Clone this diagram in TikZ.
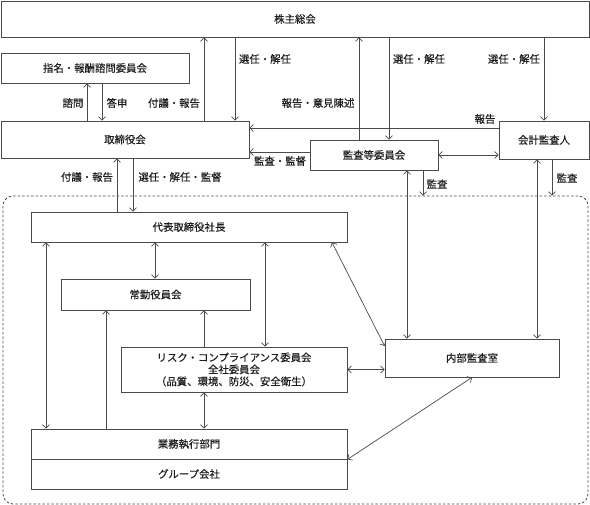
\documentclass[tikz,border=0pt]{standalone}
\usepackage{fontspec}
\setmainfont{Noto Sans CJK JP}[FakeBold=0.5]
\usetikzlibrary{arrows.meta}
\definecolor{lc}{HTML}{4A4A4A}
\definecolor{tc}{HTML}{1E1E1E}
\tikzset{
  box/.style={draw=lc, line width=0.8pt, rectangle, inner sep=0pt, text=tc, align=center,
    font=\fontsize{10.4}{12}\selectfont},
  lbl/.style={text=tc, inner sep=0pt, font=\fontsize{10.4}{12}\selectfont},
  conn/.style={draw=lc, line width=0.7pt},
  tip/.style={-{Straight Barb[length=3.5pt,width=7pt]}},
  both/.style={{Straight Barb[length=3.5pt,width=7pt]}-{Straight Barb[length=3.5pt,width=7pt]}},
  frame/.style={draw=lc, line width=0.8pt, dash pattern=on 2.5pt off 2pt, rounded corners=10pt, inner sep=0pt}
}
\begin{document}
\begin{tikzpicture}[x=1pt,y=-1pt]
\useasboundingbox (0,0) rectangle (590,505);
% frame
\node[frame, minimum width=585pt, minimum height=308pt] (frame) at (295.5,350) {};
% boxes
\node[box, minimum width=588pt, minimum height=36pt] (kabu) at (295,19) {株主総会};
\node[box, minimum width=188pt, minimum height=30pt] (shimei) at (95,68) {指名・報酬諮問委員会};
\node[box, minimum width=248pt, minimum height=37pt] (tori) at (125,139.5) {取締役会};
\node[box, minimum width=128pt, minimum height=30pt] (kansa) at (374,155) {監査等委員会};
\node[box, minimum width=90pt, minimum height=38pt] (kaikei) at (544,140) {会計監査人};
\node[box, minimum width=316pt, minimum height=30pt] (daihyo) at (189,227) {代表取締役社長};
\node[box, minimum width=189pt, minimum height=31pt] (jokin) at (155.5,294.5) {常勤役員会};
\node[box, minimum width=226pt, minimum height=45pt] (risk) at (234,369.5) {リスク・コンプライアンス委員会\\全社委員会\\（品質、環境、防災、安全衛生）};
\node[box, minimum width=316pt, minimum height=30pt] (gyomu) at (189,444) {業務執行部門};
\node[box, minimum width=316pt, minimum height=30pt] (group) at (189,474) {グループ会社};
\node[box, minimum width=174pt, minimum height=38pt] (naibu) at (472,358) {内部監査室};
% top connectors
\draw[conn,tip] (tori.north -| 87,0) -- (shimei.south -| 87,0);
\draw[conn,tip] (shimei.south -| 102,0) -- (tori.north -| 102,0);
\draw[conn,tip] (tori.north -| 204,0) -- (kabu.south -| 204,0);
\draw[conn,tip] (kabu.south -| 235,0) -- (tori.north -| 235,0);
\draw[conn,tip] (kansa.north -| 359,0) -- (kabu.south -| 359,0);
\draw[conn,tip] (kabu.south -| 389,0) -- (kansa.north -| 389,0);
\draw[conn,tip] (kabu.south -| 544,0) -- (kaikei.north);
\draw[conn,tip] (kaikei.west |- 0,128) -- (tori.east |- 0,128);
\draw[conn,tip] (kansa.west |- 0,152) -- (tori.east |- 0,152);
\draw[conn,both] (kansa.east) -- (kansa.east -| kaikei.west);
\draw[conn,both] (kansa.south -| 407,0) -- (naibu.north -| 407,0);
\draw[conn,tip] (kansa.south -| 423,0) -- (frame.north -| 423,0);
\draw[conn,both] (kaikei.south -| 537,0) -- (naibu.north -| 537,0);
\draw[conn,tip] (kaikei.south -| 552,0) -- (frame.north -| 552,0);
\draw[conn,tip] (daihyo.north -| 117,0) -- (tori.south -| 117,0);
\draw[conn,tip] (tori.south -| 133,0) -- (daihyo.north -| 133,0);
% inner connectors
\draw[conn,both] (daihyo.south -| 155,0) -- (jokin.north -| 155,0);
\draw[conn,both] (daihyo.south -| 46,0) -- (gyomu.north -| 46,0);
\draw[conn,tip] (gyomu.north -| 106,0) -- (jokin.south -| 106,0);
\draw[conn,tip] (risk.north -| 204,0) -- (jokin.south -| 204,0);
\draw[conn,both] (daihyo.south -| 265,0) -- (risk.north -| 265,0);
\draw[conn,both] (risk.south -| 204,0) -- (gyomu.north -| 204,0);
\draw[conn,both] (risk.east) -- (risk.east -| naibu.west);
\draw[conn,both] (daihyo.south -| 332,0) -- (naibu.west |- 0,346);
\draw[conn,both] (naibu.south) -- (gyomu.south east);
% labels
\node[lbl] (l1) at (73,103) {諮問};
\node[lbl] (l2) at (117,103) {答申};
\node[lbl] (l3) at (174,103) {付議・報告};
\node[lbl] (l4) at (265,59) {選任・解任};
\node[lbl] (l5) at (318,103) {報告・意見陳述};
\node[lbl] (l6) at (419,59) {選任・解任};
\node[lbl] (l7) at (514,59) {選任・解任};
\node[lbl] (l8) at (485,119) {報告};
\node[lbl] (l9) at (280,161) {監査・監督};
\node[lbl] (l10) at (437,184) {監査};
\node[lbl] (l11) at (567,178) {監査};
\node[lbl] (l12) at (87,177) {付議・報告};
\node[lbl] (l13) at (180,177) {選任・解任・監督};
\end{tikzpicture}
\end{document}
